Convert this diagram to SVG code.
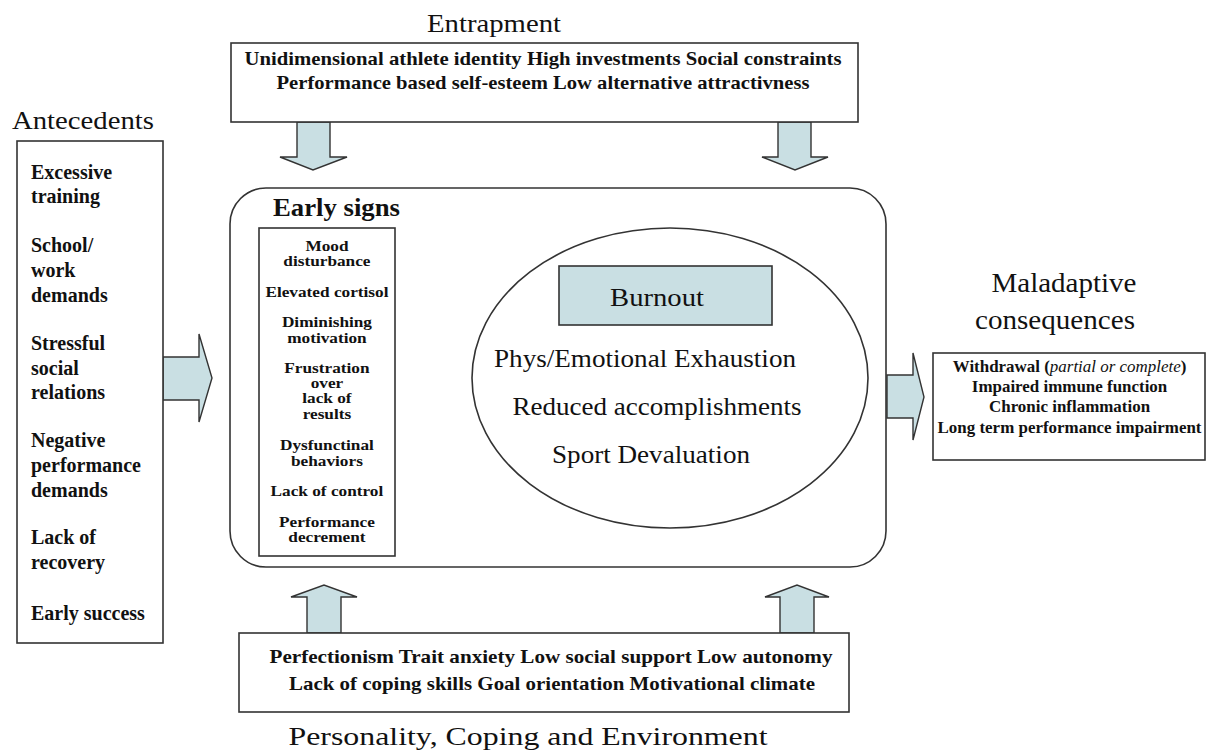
<svg xmlns="http://www.w3.org/2000/svg" width="1207" height="751" viewBox="0 0 1207 751" font-family="'Liberation Serif', 'Times New Roman', serif">
<style>
.box{fill:#fff;stroke:#333;stroke-width:1.6}
.arr{fill:#c9dfe3;stroke:#333;stroke-width:1.4;stroke-linejoin:miter}
text{font-family:"Liberation Serif","Times New Roman",serif;fill:#111}
.b{font-weight:bold}
.title{font-size:25px}
.sm{font-size:17px}
.md{font-size:19px}
</style>
<rect width="1207" height="751" fill="#fff"/>

<g id="connectors">
<path class="arr" d="M297,122 V157 H280 L313,170 L347,157 H330 V122 Z"/>
<path class="arr" d="M778,122 V157 H762 L795,170 L828,157 H811 V122 Z"/>
<path class="arr" d="M307,633 V597 H291 L324,585 L357,597 H341 V633 Z"/>
<path class="arr" d="M780,633 V597 H765 L797,585 L829,597 H814 V633 Z"/>
<path class="arr" d="M163,357 H199 V334 L212,378 L199,422 V400 H163 Z"/>
<path class="arr" d="M887,375 H913 V353 L924,397 L913,440 V418 H887 Z"/>
<path class="arr" d="M404,382 L417,353 V368 H450 V353 L463,382 L450,412 V397 H417 V412 Z"/>
</g>

<g id="entrapment">
<text class="title" x="494" y="32" text-anchor="middle" textLength="134" lengthAdjust="spacingAndGlyphs">Entrapment</text>
<rect class="box" x="231" y="43" width="627" height="79"/>
<text class="b md" x="543" y="65" text-anchor="middle" textLength="597" lengthAdjust="spacingAndGlyphs">Unidimensional athlete identity  High investments  Social constraints</text>
<text class="b md" x="543" y="89" text-anchor="middle" textLength="533" lengthAdjust="spacingAndGlyphs">Performance based self-esteem  Low alternative attractivness</text>
</g>

<g id="antecedents">
<text class="title" x="12" y="129" textLength="142" lengthAdjust="spacingAndGlyphs">Antecedents</text>
<rect class="box" x="17" y="141" width="146" height="502"/>
<g class="b" font-size="20">
<text x="31" y="179">Excessive</text>
<text x="31" y="203">training</text>
<text x="31" y="252">School/</text>
<text x="31" y="277">work</text>
<text x="31" y="302">demands</text>
<text x="31" y="350">Stressful</text>
<text x="31" y="375">social</text>
<text x="31" y="399">relations</text>
<text x="31" y="447">Negative</text>
<text x="31" y="472">performance</text>
<text x="31" y="497">demands</text>
<text x="31" y="544">Lack of</text>
<text x="31" y="569">recovery</text>
<text x="31" y="620">Early success</text>
</g>
</g>

<g id="core">
<rect class="box" x="230" y="188" width="656" height="379" rx="36" ry="36"/>
<text class="b" font-size="25" x="273" y="216" textLength="127" lengthAdjust="spacingAndGlyphs">Early signs</text>
</g>

<g id="early-signs">
<rect class="box" x="259" y="228" width="136" height="328"/>
<g class="b" font-size="15" text-anchor="middle" transform="scale(1.15,1)">
<text x="284.3" y="251">Mood</text>
<text x="284.3" y="266">disturbance</text>
<text x="284.3" y="297">Elevated cortisol</text>
<text x="284.3" y="327">Diminishing</text>
<text x="284.3" y="343">motivation</text>
<text x="284.3" y="373">Frustration</text>
<text x="284.3" y="388">over</text>
<text x="284.3" y="403">lack of</text>
<text x="284.3" y="419">results</text>
<text x="284.3" y="450">Dysfunctinal</text>
<text x="284.3" y="466">behaviors</text>
<text x="284.3" y="496">Lack of control</text>
<text x="284.3" y="527">Performance</text>
<text x="284.3" y="542">decrement</text>
</g>
</g>

<g id="burnout">
<ellipse class="box" cx="670" cy="378" rx="198" ry="150"/>
<rect x="559" y="266" width="213" height="59" fill="#c9dfe3" stroke="#333" stroke-width="1.6"/>
<text font-size="26" x="657" y="306" text-anchor="middle" textLength="94" lengthAdjust="spacingAndGlyphs">Burnout</text>
<text font-size="26" x="645" y="367" text-anchor="middle" textLength="302" lengthAdjust="spacingAndGlyphs">Phys/Emotional Exhaustion</text>
<text font-size="26" x="657" y="415" text-anchor="middle" textLength="289" lengthAdjust="spacingAndGlyphs">Reduced accomplishments</text>
<text font-size="26" x="651" y="463" text-anchor="middle" textLength="198" lengthAdjust="spacingAndGlyphs">Sport Devaluation</text>
</g>

<g id="consequences">
<text font-size="27" x="1064" y="292" text-anchor="middle" textLength="145" lengthAdjust="spacingAndGlyphs">Maladaptive</text>
<text font-size="27" x="1055" y="329" text-anchor="middle" textLength="160" lengthAdjust="spacingAndGlyphs">consequences</text>
<rect class="box" x="933" y="353" width="272" height="107"/>
<g class="b" font-size="16" text-anchor="middle" transform="scale(1.06,1)">
<text x="1009" y="372">Withdrawal (<tspan font-style="italic" font-weight="normal">partial or complete</tspan>)</text>
<text x="1009" y="392">Impaired immune function</text>
<text x="1009" y="412">Chronic inflammation</text>
<text x="1009" y="433">Long term performance impairment</text>
</g>
</g>

<g id="personality">
<rect class="box" x="239" y="633" width="610" height="79"/>
<text class="b md" x="551" y="663" text-anchor="middle" textLength="563" lengthAdjust="spacingAndGlyphs">Perfectionism  Trait anxiety  Low social support  Low autonomy</text>
<text class="b md" x="552" y="690" text-anchor="middle" textLength="526" lengthAdjust="spacingAndGlyphs">Lack of coping skills  Goal orientation  Motivational climate</text>
<text font-size="26" x="528" y="745" text-anchor="middle" textLength="479" lengthAdjust="spacingAndGlyphs">Personality, Coping and Environment</text>
</g>
</svg>
